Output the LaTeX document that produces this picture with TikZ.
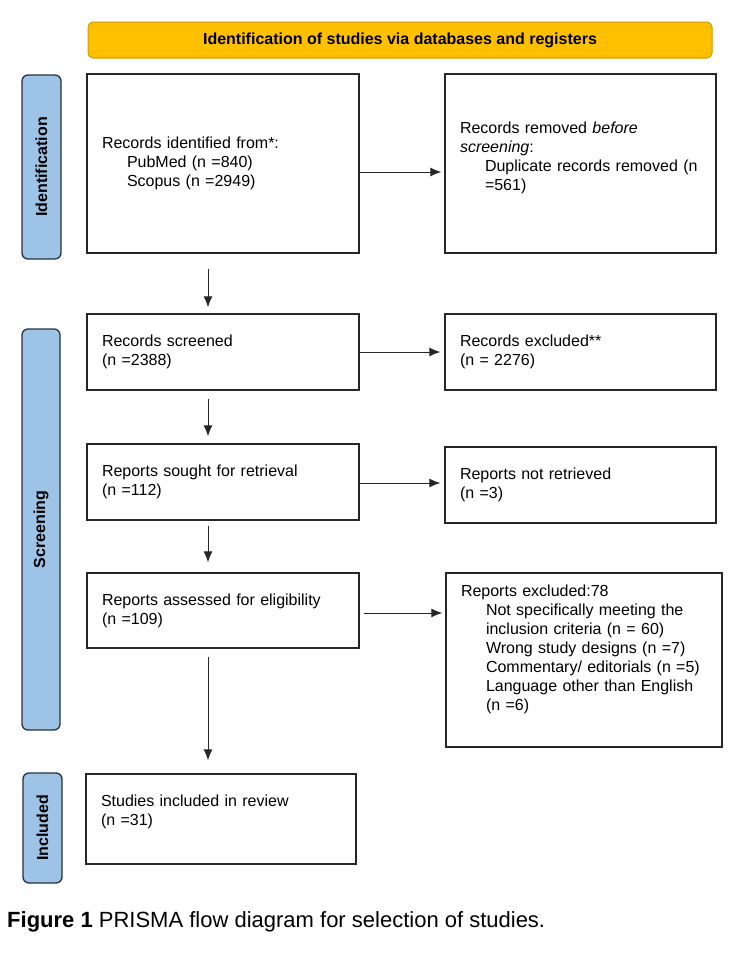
\documentclass[tikz,border=0pt]{standalone}
\usepackage{fontspec}
\setmainfont{Liberation Sans}
\usetikzlibrary{arrows,arrows.meta}
\usetikzlibrary{positioning}
\usetikzlibrary{calc}

\definecolor{bannerfill}{HTML}{FFC000}
\definecolor{bannerline}{HTML}{C99A00}
\definecolor{phasefill}{HTML}{9DC3E6}
\definecolor{phaseline}{HTML}{27313D}

\newcommand{\droop}[1]{\rule[-#1]{0pt}{#1}}
\newcommand{\ind}{\hspace*{25pt}}

\tikzset{
  box/.style={draw=black!85, line width=1.3pt, fill=white, align=left, inner xsep=15pt,
    font=\fontsize{16}{19}\selectfont},
  phase/.style={draw=phaseline, line width=1.3pt, fill=phasefill, rounded corners=6pt,
    rotate=90, font=\fontsize{16}{19}\selectfont\bfseries},
  banner/.style={draw=bannerline, line width=1pt, fill=bannerfill, rounded corners=5pt,
    font=\fontsize{16}{19}\selectfont\bfseries},
  flow/.style={->, line width=1pt, draw=black!85},
}

\begin{document}
\begin{tikzpicture}[x=1pt, y=-1pt, >={Latex[length=11pt,width=9pt]}]
\useasboundingbox (0,0) rectangle (750,969);

% title bar
\node[banner, minimum width=624pt, minimum height=36pt] (banner) at (400,40)
  {Identification of studies via databases and registers};

% phase labels
\node[phase, minimum width=184pt, minimum height=39pt] (idphase) at (41.5,167) {Identification};
\node[phase, minimum width=401pt, minimum height=38pt] (scphase) at (41,529.5) {Screening};
\node[phase, minimum width=110pt, minimum height=39pt] (inphase) at (42.5,828) {Included};

% identification
\node[box, text width=242pt, minimum height=179pt] (identified) at (223,163.5)
  {Records identified from*:\\ \ind PubMed (n =840)\\ \ind Scopus (n =2949)};
\node[box, text width=241pt, minimum height=179pt] (removed) at (580.5,163.5)
  {Records removed \textit{before}\\ \textit{screening}:\\ \ind Duplicate records removed (n\\ \ind =561)\droop{15pt}};

% screening
\node[box, text width=242pt, minimum height=76pt] (screened) at (223,352)
  {Records screened\\ (n =2388)};
\node[box, text width=241pt, minimum height=76pt] (excluded) at (580.5,352)
  {Records excluded**\\ (n = 2276)};
\node[box, text width=242pt, minimum height=76pt] (sought) at (223,482)
  {Reports sought for retrieval\\ (n =112)};
\node[box, text width=241pt, minimum height=76pt] (notretrieved) at (580.5,485)
  {Reports not retrieved\\ (n =3)};
\node[box, text width=242pt, minimum height=75pt] (assessed) at (223,610.5)
  {Reports assessed for eligibility\\ (n =109)};
\node[box, text width=246pt, minimum height=174pt] (exclreports) at (584,660)
  {Reports excluded:78\\ \ind Not specifically meeting the\\ \ind inclusion criteria (n = 60)\\
   \ind Wrong study designs (n =7)\\ \ind Commentary/ editorials (n =5)\\
   \ind Language other than English\\ \ind (n =6)\droop{24pt}};

% included
\node[box, text width=240pt, minimum height=90pt] (included) at (221,819)
  {Studies included in review\\ (n =31)\droop{18pt}};

% side arrows
\draw[flow, shorten >=3pt] ([yshift=-8.5pt]identified.east) -- ([yshift=-8.5pt]identified.east -| removed.west);
\draw[flow, shorten >=4pt] (screened.east) -- (screened.east -| excluded.west);
\draw[flow, shorten >=4pt] ([yshift=-1pt]sought.east) -- ([yshift=-1pt]sought.east -| notretrieved.west);
\draw[flow, shorten <=4pt, shorten >=3pt] ([yshift=-2.5pt]assessed.east) -- ([yshift=-2.5pt]assessed.east -| exclreports.west);

% down arrows
\draw[flow, shorten <=15pt, shorten >=6pt] ([xshift=-15pt]identified.south) -- ([xshift=-15pt]screened.north);
\draw[flow, shorten <=8pt, shorten >=7pt] ([xshift=-15pt]screened.south) -- ([xshift=-15pt]sought.north);
\draw[flow, shorten <=5pt, shorten >=10pt] ([xshift=-15pt]sought.south) -- ([xshift=-15pt]assessed.north);
\draw[flow, shorten <=8pt, shorten >=13pt] ([xshift=-15pt]assessed.south) -- ([xshift=-15pt]assessed.south |- included.north);

% caption
\node[anchor=west, inner sep=0pt, font=\fontsize{22}{26}\selectfont] (caption) at (7,922)
  {\textbf{Figure 1} PRISMA flow diagram for selection of studies.};

\end{tikzpicture}
\end{document}
